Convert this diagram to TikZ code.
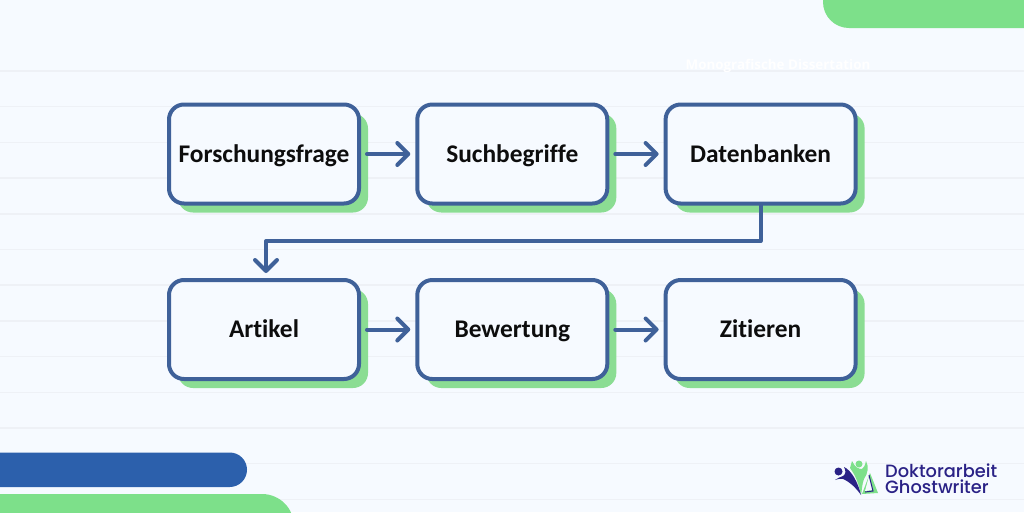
\documentclass[tikz,border=0pt]{standalone}
\usepackage{fontspec}
\usepackage{xcolor}
\setmainfont{Carlito}[Ligatures=NoCommon]
\newfontfamily\logofont{Poppins Medium}
\newfontfamily\capfont{Open Sans}
\usetikzlibrary{arrows.meta,positioning,shadows}
\definecolor{pagebg}{HTML}{F6FAFF}
\definecolor{rulegray}{HTML}{EEF1F6}
\definecolor{boxblue}{HTML}{3F6199}
\definecolor{barblue}{HTML}{2C60AC}
\definecolor{mintgreen}{HTML}{7DE08A}
\definecolor{shadegreen}{HTML}{8BDD93}
\definecolor{logonavy}{HTML}{2A2286}
\tikzset{
    stepbox/.style={draw=boxblue, line width=4pt, rounded corners=15pt, fill=pagebg,
        minimum width=190pt, minimum height=99pt, inner sep=0pt, outer sep=2pt,
        text height=22pt, text depth=6pt,
        font=\fontsize{25.4}{28}\selectfont\bfseries, text=black!95,
        drop shadow={shadow xshift=9pt, shadow yshift=-9pt, fill=shadegreen, opacity=1}},
    flow/.style={draw=boxblue, line width=4pt, line cap=round, line join=round,
        -{Straight Barb[length=11pt,width=22pt,line width=4pt,round]}},
    logotext/.style={font=\logofont\fontsize{17.8}{19}\selectfont, text=logonavy, inner sep=0pt, anchor=west}
}
\begin{document}
\begin{tikzpicture}[x=1pt,y=-1pt,node distance=248.3pt,on grid]
    \useasboundingbox (0,0) rectangle (1024,512);
    \fill[pagebg] (0,0) rectangle (1024,512);
    % faint ruled lines
    \foreach \i in {0,...,12}
        \draw[rulegray, line width=1.5pt] (0,71+35.7*\i) -- (1024,71+35.7*\i);
    % corner shapes
    \fill[mintgreen, rounded corners=26pt] (823,-40) rectangle (1064,28);
    \fill[barblue, rounded corners=17.25pt] (-40,452.5) rectangle (247,487);
    \fill[mintgreen, rounded corners=32pt] (-40,494) rectangle (294,560);
    % hidden caption
    \node[text=white, font=\capfont\fontsize{13.4}{16}\selectfont\bfseries] (caption) at (778,66) {Monografische Dissertation};

    \node[stepbox] (frage) at (264,154) {Forschungsfrage};
    \node[stepbox] (begriffe) [right=of frage] {Suchbegriffe};
    \node[stepbox] (banken) [right=of begriffe] {Datenbanken};
    \node[stepbox] (artikel) at (264,329.5) {Artikel};
    \node[stepbox] (bewertung) [right=of artikel] {Bewertung};
    \node[stepbox] (zitieren) [right=of bewertung] {Zitieren};

    \draw[flow, shorten <=6pt, shorten >=5pt] (frage) -- (begriffe);
    \draw[flow, shorten <=6pt, shorten >=5pt] (begriffe) -- (banken);
    \draw[flow, shorten <=6pt, shorten >=5pt] (artikel) -- (bewertung);
    \draw[flow, shorten <=6pt, shorten >=5pt] (bewertung) -- (zitieren);
    \coordinate (knick) at (266,241);
    \draw[flow, shorten >=5pt] (banken.south) |- (knick) -- (knick |- artikel.north);

    % logo
    \fill[mintgreen] (870,473) -- (878,493) -- (862,494) -- cycle;
    \fill[pagebg] (869,476) -- (873,490) -- (865,491) -- cycle;
    \draw[logonavy, line width=1pt] (869,475) -- (873,491) -- (865,492);
    \fill[mintgreen] (852,461) .. controls (855,467) and (858,469) .. (862,469)
        .. controls (864,468) and (865,465) .. (866,461)
        .. controls (869,467) and (868,473) .. (864,479)
        .. controls (862,484) and (862,490) .. (861,495)
        .. controls (859,485) and (856,476) .. (850,468) -- cycle;
    \fill[mintgreen] (859,464) circle (3.5pt);
    \fill[logonavy] (835,480) .. controls (838,478) and (840,477) .. (843,476)
        .. controls (846,474) and (846,471) .. (844,467)
        .. controls (851,470) and (858,482) .. (861,495)
        .. controls (856,488) and (850,482) .. (843,479)
        .. controls (841,478) and (838,479) .. (835,480) -- cycle;
    \fill[logonavy] (838.5,471.5) circle (4pt);
    \node[logotext] (doktor) at (885,471) {Doktorarbeit};
    \node[logotext] (ghost) at (885,487) {Ghostwriter};
\end{tikzpicture}
\end{document}
